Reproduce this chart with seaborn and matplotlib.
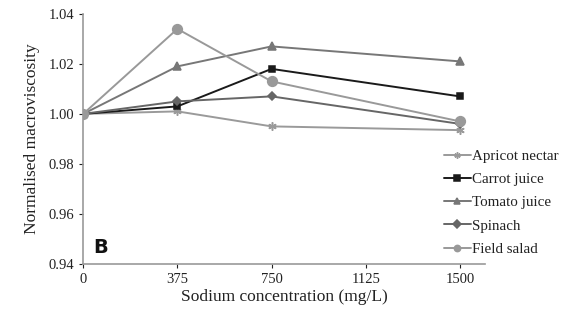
import pandas as pd
import seaborn as sns
import matplotlib.pyplot as plt

# Values
sodium = [0, 375, 750, 1500]
apricot_nectar = [1.000, 1.001, 0.995, 0.9935]
carrot_juice = [1.000, 1.003, 1.018, 1.007]
tomato_juice = [1.000, 1.019, 1.027, 1.021]
spinach = [1.000, 1.005, 1.007, 0.996]
field_salad = [1.000, 1.034, 1.013, 0.997]

series = {
    'Apricot nectar': apricot_nectar,
    'Carrot juice': carrot_juice,
    'Tomato juice': tomato_juice,
    'Spinach': spinach,
    'Field salad': field_salad,
}
rows = []
for name, vals in series.items():
    for x, y in zip(sodium, vals):
        rows.append({'Sodium': x, 'Value': y, 'Sample': name})
data = pd.DataFrame(rows)

sns.set_style('white')
plt.rcParams['font.family'] = ['Liberation Serif', 'DejaVu Serif']

palette = {
    'Apricot nectar': '#9a9a9a',
    'Carrot juice': '#1a1a1a',
    'Tomato juice': '#777777',
    'Spinach': '#666666',
    'Field salad': '#999999',
}
markers = {
    'Apricot nectar': (6, 2, 0),
    'Carrot juice': 's',
    'Tomato juice': '^',
    'Spinach': 'D',
    'Field salad': 'o',
}
sizes = {'Apricot nectar': 6, 'Carrot juice': 4.5, 'Tomato juice': 5.5,
         'Spinach': 4, 'Field salad': 7}

fig = plt.figure(figsize=(5.74, 3.16), dpi=100)
ax = fig.add_axes([0.145, 0.165, 0.70, 0.791])

for name in series:
    sub = data[data['Sample'] == name]
    sns.lineplot(data=sub, x='Sodium', y='Value', ax=ax, color=palette[name],
                 marker=markers[name], markersize=sizes[name], linewidth=1.4,
                 markeredgecolor=palette[name], markeredgewidth=1.1,
                 label=name)

ax.set_xlim(0, 1600)
ax.set_ylim(0.94, 1.04)
ax.set_xticks([0, 375, 750, 1125, 1500])
ax.set_yticks([0.94, 0.96, 0.98, 1.00, 1.02, 1.04])
ax.set_yticklabels([f'{v:.2f}' for v in [0.94, 0.96, 0.98, 1.00, 1.02, 1.04]])
ax.tick_params(axis='both', labelsize=10.5, colors='#222222', length=3,
               direction='out', width=0.8)
ax.tick_params(axis='x', bottom=True)
ax.tick_params(axis='y', left=True)
for s in ['top', 'right']:
    ax.spines[s].set_visible(False)
for s in ['left', 'bottom']:
    ax.spines[s].set_color('#999999')
    ax.spines[s].set_linewidth(1.2)

ax.set_xlabel('Sodium concentration (mg/L)', fontsize=12.5, color='#222222', labelpad=2)
ax.set_ylabel('Normalised macroviscosity', fontsize=12.5, color='#222222', labelpad=6)

ax.text(40, 0.9445, 'B', fontsize=14, fontweight='bold', family='DejaVu Sans',
        color='#111111')

leg = ax.legend(loc='lower left', bbox_to_anchor=(0.773, 0.19),
                bbox_transform=fig.transFigure, frameon=False,
                fontsize=10.8, handlelength=1.8, handletextpad=0.1,
                labelspacing=0.65, borderaxespad=0, borderpad=0)
for t in leg.get_texts():
    t.set_color('#222222')
for h in leg.legend_handles:
    h.set_markersize(4.5)

plt.savefig('out.png', dpi=100)
plt.close()
